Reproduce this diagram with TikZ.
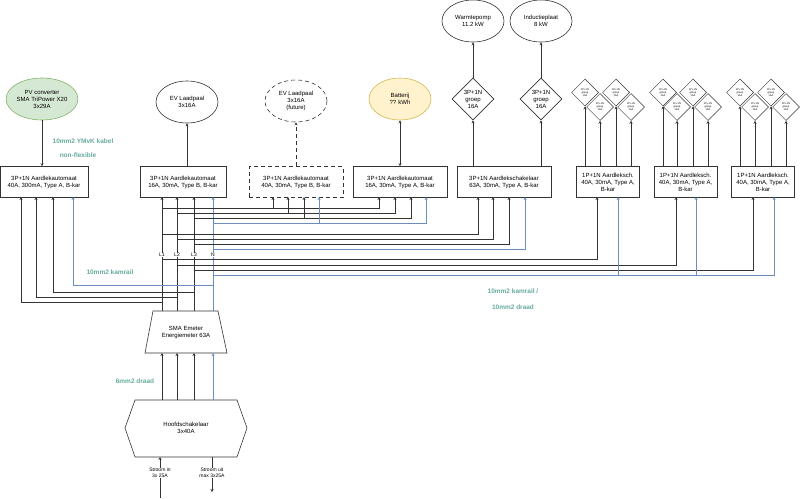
\documentclass[tikz,border=0pt]{standalone}
\usepackage{fontspec}
\setmainfont{Liberation Sans}
\usetikzlibrary{arrows.meta,shapes.geometric}
\definecolor{teal}{HTML}{67AB9F}
\definecolor{nblue}{HTML}{6C8EBF}
\definecolor{wire}{HTML}{333333}
\definecolor{gfill}{HTML}{D5E8D4}\definecolor{gline}{HTML}{82B366}
\definecolor{yfill}{HTML}{FFF2CC}\definecolor{yline}{HTML}{D6B656}
\begin{document}
\begin{tikzpicture}[x=1pt,y=-1pt,
  txt/.style={font=\fontsize{6}{7}\selectfont,align=center},
  box/.style={draw=wire,line width=0.6pt,rectangle,txt,inner sep=0pt,minimum height=31pt},
  ell/.style={draw=wire,line width=0.6pt,ellipse,txt,inner sep=0pt,minimum width=62pt,minimum height=42pt},
  dia/.style={draw=wire,line width=0.6pt,diamond,txt,inner sep=0pt,minimum width=42pt,minimum height=42pt},
  sdia/.style={draw=wire,line width=0.5pt,diamond,font=\fontsize{2.6}{3}\selectfont,align=center,inner sep=0pt,minimum width=27pt,minimum height=27pt,fill=white},
  dsh/.style={dash pattern=on 4pt off 3pt},
  w/.style={draw=wire,line width=0.55pt},
  n/.style={draw=nblue,line width=0.65pt},
  arr/.style={-{Stealth[length=3pt,width=3pt]}},
  lab/.style={text=teal,font=\bfseries\fontsize{6.5}{8}\selectfont},
  bl/.style={font=\fontsize{5}{6}\selectfont,fill=white,inner sep=0.5pt,align=center}]
\useasboundingbox (0,0) rectangle (800,498);
% boxes
\node[box,minimum width=88pt] (b1) at (44,182) {3P+1N Aardlekautomaat\\40A, 300mA, Type A, B-kar};
\node[box,minimum width=86pt] (b2) at (183,182) {3P+1N Aardlekautomaat\\16A, 30mA, Type B, B-kar};
\node[box,dsh,minimum width=94pt] (b3) at (296,182) {3P+1N Aardlekautomaat\\40A, 30mA, Type B, B-kar};
\node[box,minimum width=94pt] (b4) at (400,182) {3P+1N Aardlekautomaat\\16A, 30mA, Type A, B-kar};
\node[box,minimum width=94pt] (b5) at (504,182) {3P+1N Aardlekschakelaar\\63A, 30mA, Type A, B-kar};
\node[box,minimum width=63pt] (b6) at (608,182) {1P+1N Aardleksch.\\40A, 30mA, Type A,\\B-kar};
\node[box,minimum width=63pt] (b7) at (685.5,182) {1P+1N Aardleksch.\\40A, 30mA, Type A,\\B-kar};
\node[box,minimum width=63pt] (b8) at (763,182) {1P+1N Aardleksch.\\40A, 30mA, Type A,\\B-kar};
% ellipses
\node[ell,fill=gfill,draw=gline] (pv) at (42,99) {PV converter\\SMA TriPower X20\\3x29A};
\node[ell] (ev) at (187,102) {EV Laadpaal\\3x16A};
\node[ell,dsh] (ev2) at (296,101) {EV Laadpaal\\3x16A\\(future)};
\node[ell,fill=yfill,draw=yline] (bat) at (400,99) {Batterij\\?? kWh};
\node[ell] (wp) at (473,21) {Warmtepomp\\11.2 kW};
\node[ell] (ip) at (541,21) {Inductieplaat\\8 kW};
\node[dia] (d1) at (473,99) {3P+1N\\groep\\16A};
\node[dia] (d2) at (541,99) {3P+1N\\groep\\16A};
\draw[w,arr] (pv) -- (b1.north -| pv);
\draw[w,arr] (b2.north -| ev) -- (ev);
\draw[w,arr,dsh] (b3.north) -- (ev2);
\draw[w,{Stealth[length=3pt,width=3pt]}-{Stealth[length=3pt,width=3pt]}] (b4.north) -- (bat);
\draw[w,arr] (b5.north -| d1) -- (d1);
\draw[w,arr] (b5.north -| d2) -- (d2);
\draw[w,arr] (d1) -- (wp);
\draw[w,arr] (d2) -- (ip);
% small diamonds
\foreach \b/\xa/\xb/\xc/\xd in {b6/585/600/616/631, b7/663/677/693/708, b8/740/755/771/786}{
  \node[sdia] (\b u1) at (\xa,92.5) {1P+1N\\groep\\16A};
  \node[sdia] (\b u2) at (\xc,92.5) {1P+1N\\groep\\16A};
  \node[sdia] (\b l1) at (\xb,107) {1P+1N\\groep\\16A};
  \node[sdia] (\b l2) at (\xd,107) {1P+1N\\groep\\16A};
  \draw[w,arr] (\xa,166) -- (\b u1.south);
  \draw[w,arr] (\xc,166) -- (\b u2.south);
  \draw[w,arr] (\xb,166) -- (\b l1.south);
  \draw[w,arr] (\xd,166) -- (\b l2.south);
}
% meter and main switch
\draw[wire,line width=0.6pt] (153,311) -- (218,311) -- (227,353) -- (145,353) -- cycle;
\node[txt] (meter) at (186,333) {SMA Emeter\\Energiemeter 63A};
\draw[wire,line width=0.6pt] (135,400) -- (237,400) -- (247,428) -- (237,457) -- (135,457) -- (125,428) -- cycle;
\node[txt] (hs) at (186,428) {Hoofdschakelaar\\3x40A};
\draw[w,arr] (162,400) -- (162,353);
\draw[w,arr] (177,400) -- (177,353);
\draw[w,arr] (194,400) -- (194,353);
\draw[n,arr] (213,400) -- (213,353);
\draw[w,arr] (160,498) -- (160,457);
\draw[w,arr] (212,457) -- (212,492);
\node[bl] (sin) at (160,473) {Stroom in\\3x 25A};
\node[bl] (sout) at (212,473) {Stroom uit\\max 3x25A};
% bus verticals
\draw[w,arr] (162,311) -- (162,197);
\draw[w,arr] (177,311) -- (177,197);
\draw[w,arr] (194,311) -- (194,197);
\draw[n,arr] (213,311) -- (213,197);
\foreach \t/\x in {L1/162,L2/177,L3/194,N/213}
  \node[bl] (lab\t) at (\x,255) {\t};
% box3 / box4
\draw[w,arr] (162,208) -| (379,197); \draw[w,arr] (273,208) -- (273,197);
\draw[w,arr] (177,213) -| (395,197); \draw[w,arr] (288,213) -- (288,197);
\draw[w,arr] (194,218) -| (411,197); \draw[w,arr] (304,218) -- (304,197);
\draw[n,arr] (213,223) -| (426,197); \draw[n,arr] (319,223) -- (319,197);
% box5
\draw[w,arr] (162,234) -| (478,197);
\draw[w,arr] (177,239) -| (493,197);
\draw[w,arr] (194,244) -| (509,197);
\draw[n,arr] (213,249) -| (525,197);
% box6-8
\draw[w,arr] (162,259) -| (597,197);
\draw[w,arr] (177,265) -| (676,197);
\draw[w,arr] (194,270) -| (753,197);
\draw[n,arr] (213,275) -| (774,197);
\draw[n,arr] (618,275) -- (618,197);
\draw[n,arr] (696,275) -- (696,197);
% box1
\draw[n,arr] (213,285) -| (73,197);
\draw[w,arr] (194,292) -| (53,197);
\draw[w,arr] (177,297) -| (36,197);
\draw[w,arr] (162,302) -| (21,197);
% labels
\node[lab] at (83,141) {10mm2 YMvK kabel};
\node[lab] at (78,155) {non-flexible};
\node[lab] at (110,272) {10mm2 kamrail};
\node[lab] at (513,291) {10mm2 kamrail /};
\node[lab] at (513,307) {10mm2 draad};
\node[lab] at (135,381) {6mm2 draad};
\end{tikzpicture}
\end{document}
